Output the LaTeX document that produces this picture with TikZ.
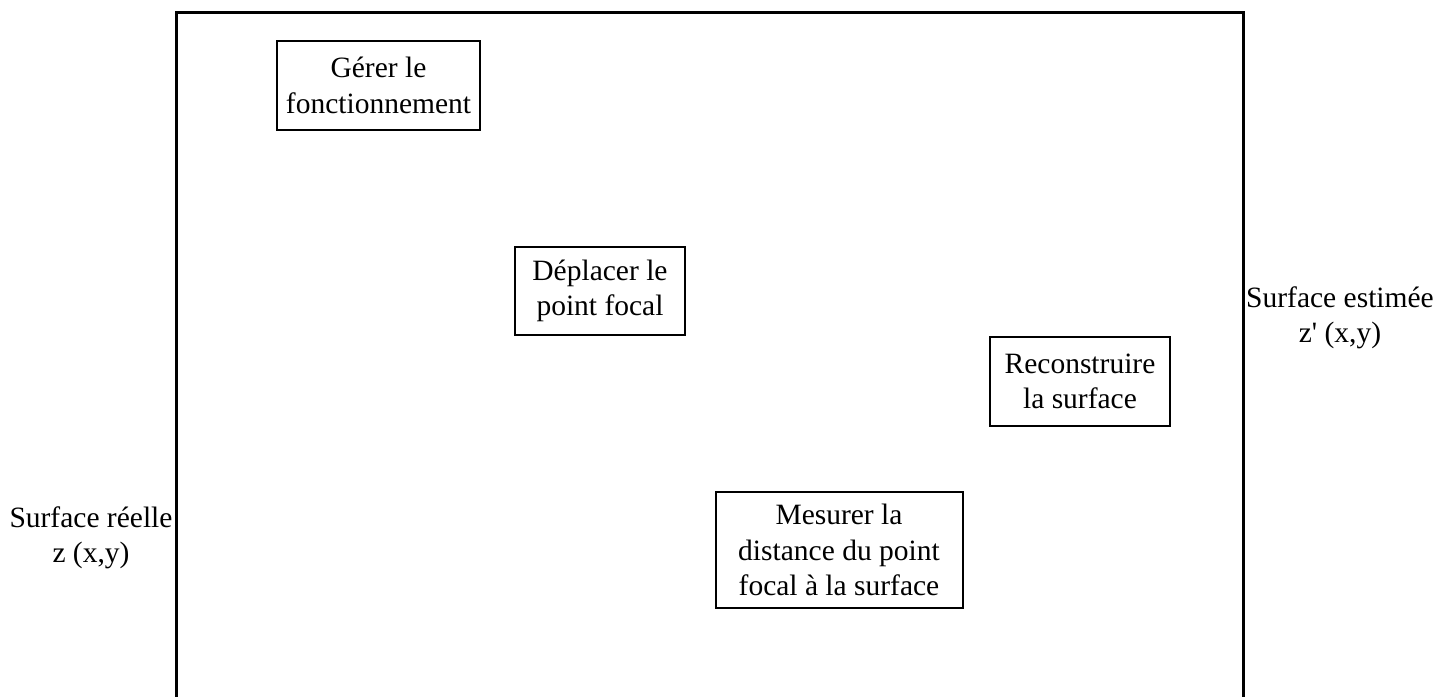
\documentclass[tikz,border=0pt]{standalone}
\usepackage{fontspec}
\setmainfont{Liberation Serif}[Ligatures=TeXOff]
\begin{document}
\begin{tikzpicture}[x=0.5pt,y=-0.5pt,
  txt/.style={font=\fontsize{14.75pt}{17.75pt}\selectfont, align=center, inner sep=0pt},
  fbox/.style={txt, draw, line width=1pt},
]
\useasboundingbox (0,0) rectangle (1453,697);
\draw[line width=1.5pt] (176,697) -- (176,12) -- (1243,12) -- (1243,697);
\node[fbox, minimum width=101.5pt, minimum height=44.5pt] (gerer) at (378.5,85.5) {Gérer le\\fonctionnement};
\node[fbox, minimum width=85pt, minimum height=44pt] (deplacer) at (600,291) {Déplacer le\\point focal};
\node[fbox, minimum width=90pt, minimum height=44.5pt] (reconstruire) at (1080,381.5) {Reconstruire\\la surface};
\node[fbox, minimum width=123.5pt, minimum height=58pt] (mesurer) at (839,550) {Mesurer la\\distance du point\\focal à la surface};
\node[txt] (reelle) at (91,538) {Surface réelle\\z (x,y)};
\node[txt] (estimee) at (1340,318) {Surface estimée\\z' (x,y)};
\end{tikzpicture}
\end{document}
